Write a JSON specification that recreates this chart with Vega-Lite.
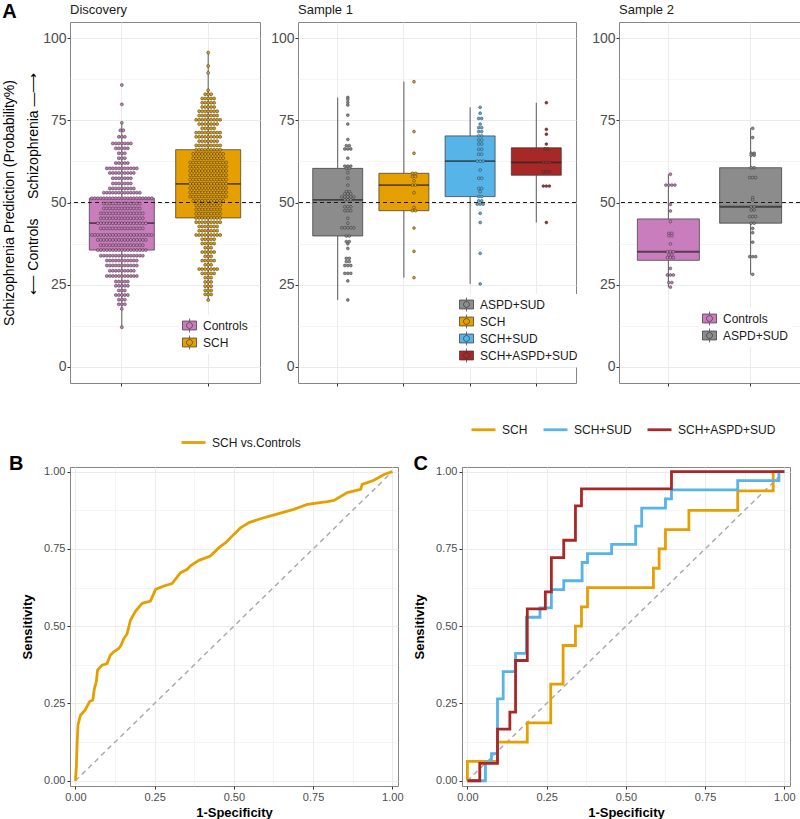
{
"$schema":"https://vega.github.io/schema/vega-lite/v6.json",
"padding":{"left":2,"top":1,"right":0,"bottom":0},
"config":{
"font":"Liberation Sans",
"view":{"stroke":"#858585","strokeWidth":1},
"axis":{"domain":false,"tickColor":"#333333","tickSize":3,"labelColor":"#4D4D4D","gridColor":"#EBEBEB","titleColor":"#000000","titleFontWeight":"normal"},
"legend":{"labelFontSize":12,"labelColor":"#1A1A1A","symbolOpacity":1},
"title":{"color":"#1A1A1A","fontWeight":"normal","fontSize":13}
},
"datasets":{
"d":[
{"g":"Controls","v":85.8},{"g":"Controls","v":79.9},{"g":"Controls","v":74.3},
{"g":"Controls","v":72},{"g":"Controls","v":72},
{"g":"Controls","v":70},{"g":"Controls","v":70},{"g":"Controls","v":70},
{"g":"Controls","v":68},{"g":"Controls","v":68},{"g":"Controls","v":68},{"g":"Controls","v":68},{"g":"Controls","v":68},{"g":"Controls","v":68},{"g":"Controls","v":68},
{"g":"Controls","v":66.5},{"g":"Controls","v":66.5},{"g":"Controls","v":66.5},{"g":"Controls","v":66.5},{"g":"Controls","v":66.5},
{"g":"Controls","v":65},{"g":"Controls","v":65},{"g":"Controls","v":65},
{"g":"Controls","v":63.5},{"g":"Controls","v":63.5},{"g":"Controls","v":63.5},
{"g":"Controls","v":62},{"g":"Controls","v":62},{"g":"Controls","v":62},{"g":"Controls","v":62},{"g":"Controls","v":62},
{"g":"Controls","v":60.4},{"g":"Controls","v":60.4},{"g":"Controls","v":60.4},{"g":"Controls","v":60.4},{"g":"Controls","v":60.4},{"g":"Controls","v":60.4},{"g":"Controls","v":60.4},{"g":"Controls","v":60.4},{"g":"Controls","v":60.4},{"g":"Controls","v":60.4},{"g":"Controls","v":60.4},
{"g":"Controls","v":59},{"g":"Controls","v":59},{"g":"Controls","v":59},{"g":"Controls","v":59},{"g":"Controls","v":59},{"g":"Controls","v":59},{"g":"Controls","v":59},{"g":"Controls","v":59},{"g":"Controls","v":59},
{"g":"Controls","v":57.4},{"g":"Controls","v":57.4},{"g":"Controls","v":57.4},{"g":"Controls","v":57.4},{"g":"Controls","v":57.4},{"g":"Controls","v":57.4},{"g":"Controls","v":57.4},
{"g":"Controls","v":55.8},{"g":"Controls","v":55.8},{"g":"Controls","v":55.8},{"g":"Controls","v":55.8},{"g":"Controls","v":55.8},{"g":"Controls","v":55.8},{"g":"Controls","v":55.8},
{"g":"Controls","v":54.3},{"g":"Controls","v":54.3},{"g":"Controls","v":54.3},{"g":"Controls","v":54.3},{"g":"Controls","v":54.3},{"g":"Controls","v":54.3},{"g":"Controls","v":54.3},{"g":"Controls","v":54.3},{"g":"Controls","v":54.3},
{"g":"Controls","v":53},{"g":"Controls","v":53},{"g":"Controls","v":53},{"g":"Controls","v":53},{"g":"Controls","v":53},{"g":"Controls","v":53},{"g":"Controls","v":53},{"g":"Controls","v":53},{"g":"Controls","v":53},{"g":"Controls","v":53},{"g":"Controls","v":53},{"g":"Controls","v":53},{"g":"Controls","v":53},
{"g":"Controls","v":51.3},{"g":"Controls","v":51.3},{"g":"Controls","v":51.3},{"g":"Controls","v":51.3},{"g":"Controls","v":51.3},{"g":"Controls","v":51.3},{"g":"Controls","v":51.3},{"g":"Controls","v":51.3},{"g":"Controls","v":51.3},{"g":"Controls","v":51.3},{"g":"Controls","v":51.3},{"g":"Controls","v":51.3},{"g":"Controls","v":51.3},{"g":"Controls","v":51.3},{"g":"Controls","v":51.3},{"g":"Controls","v":51.3},{"g":"Controls","v":51.3},{"g":"Controls","v":51.3},{"g":"Controls","v":51.3},{"g":"Controls","v":51.3},{"g":"Controls","v":51.3},
{"g":"Controls","v":49.7},{"g":"Controls","v":49.7},{"g":"Controls","v":49.7},{"g":"Controls","v":49.7},{"g":"Controls","v":49.7},{"g":"Controls","v":49.7},{"g":"Controls","v":49.7},{"g":"Controls","v":49.7},{"g":"Controls","v":49.7},{"g":"Controls","v":49.7},{"g":"Controls","v":49.7},{"g":"Controls","v":49.7},{"g":"Controls","v":49.7},
{"g":"Controls","v":48.2},{"g":"Controls","v":48.2},{"g":"Controls","v":48.2},{"g":"Controls","v":48.2},{"g":"Controls","v":48.2},{"g":"Controls","v":48.2},{"g":"Controls","v":48.2},{"g":"Controls","v":48.2},{"g":"Controls","v":48.2},{"g":"Controls","v":48.2},{"g":"Controls","v":48.2},{"g":"Controls","v":48.2},{"g":"Controls","v":48.2},
{"g":"Controls","v":46.7},{"g":"Controls","v":46.7},{"g":"Controls","v":46.7},{"g":"Controls","v":46.7},{"g":"Controls","v":46.7},{"g":"Controls","v":46.7},{"g":"Controls","v":46.7},{"g":"Controls","v":46.7},{"g":"Controls","v":46.7},{"g":"Controls","v":46.7},{"g":"Controls","v":46.7},{"g":"Controls","v":46.7},{"g":"Controls","v":46.7},{"g":"Controls","v":46.7},{"g":"Controls","v":46.7},
{"g":"Controls","v":45.2},{"g":"Controls","v":45.2},{"g":"Controls","v":45.2},{"g":"Controls","v":45.2},{"g":"Controls","v":45.2},{"g":"Controls","v":45.2},{"g":"Controls","v":45.2},{"g":"Controls","v":45.2},{"g":"Controls","v":45.2},{"g":"Controls","v":45.2},{"g":"Controls","v":45.2},{"g":"Controls","v":45.2},{"g":"Controls","v":45.2},{"g":"Controls","v":45.2},{"g":"Controls","v":45.2},
{"g":"Controls","v":43.7},{"g":"Controls","v":43.7},{"g":"Controls","v":43.7},{"g":"Controls","v":43.7},{"g":"Controls","v":43.7},{"g":"Controls","v":43.7},{"g":"Controls","v":43.7},{"g":"Controls","v":43.7},{"g":"Controls","v":43.7},{"g":"Controls","v":43.7},{"g":"Controls","v":43.7},{"g":"Controls","v":43.7},{"g":"Controls","v":43.7},{"g":"Controls","v":43.7},{"g":"Controls","v":43.7},{"g":"Controls","v":43.7},{"g":"Controls","v":43.7},
{"g":"Controls","v":42.1},{"g":"Controls","v":42.1},{"g":"Controls","v":42.1},{"g":"Controls","v":42.1},{"g":"Controls","v":42.1},{"g":"Controls","v":42.1},{"g":"Controls","v":42.1},{"g":"Controls","v":42.1},{"g":"Controls","v":42.1},{"g":"Controls","v":42.1},{"g":"Controls","v":42.1},{"g":"Controls","v":42.1},{"g":"Controls","v":42.1},{"g":"Controls","v":42.1},{"g":"Controls","v":42.1},
{"g":"Controls","v":40.1},{"g":"Controls","v":40.1},{"g":"Controls","v":40.1},{"g":"Controls","v":40.1},{"g":"Controls","v":40.1},{"g":"Controls","v":40.1},{"g":"Controls","v":40.1},{"g":"Controls","v":40.1},{"g":"Controls","v":40.1},{"g":"Controls","v":40.1},{"g":"Controls","v":40.1},{"g":"Controls","v":40.1},{"g":"Controls","v":40.1},{"g":"Controls","v":40.1},{"g":"Controls","v":40.1},{"g":"Controls","v":40.1},{"g":"Controls","v":40.1},{"g":"Controls","v":40.1},{"g":"Controls","v":40.1},{"g":"Controls","v":40.1},{"g":"Controls","v":40.1},
{"g":"Controls","v":38.6},{"g":"Controls","v":38.6},{"g":"Controls","v":38.6},{"g":"Controls","v":38.6},{"g":"Controls","v":38.6},{"g":"Controls","v":38.6},{"g":"Controls","v":38.6},{"g":"Controls","v":38.6},{"g":"Controls","v":38.6},{"g":"Controls","v":38.6},{"g":"Controls","v":38.6},{"g":"Controls","v":38.6},{"g":"Controls","v":38.6},{"g":"Controls","v":38.6},{"g":"Controls","v":38.6},{"g":"Controls","v":38.6},{"g":"Controls","v":38.6},
{"g":"Controls","v":37},{"g":"Controls","v":37},{"g":"Controls","v":37},{"g":"Controls","v":37},{"g":"Controls","v":37},{"g":"Controls","v":37},{"g":"Controls","v":37},{"g":"Controls","v":37},{"g":"Controls","v":37},{"g":"Controls","v":37},{"g":"Controls","v":37},{"g":"Controls","v":37},{"g":"Controls","v":37},{"g":"Controls","v":37},{"g":"Controls","v":37},
{"g":"Controls","v":35.5},{"g":"Controls","v":35.5},{"g":"Controls","v":35.5},{"g":"Controls","v":35.5},{"g":"Controls","v":35.5},{"g":"Controls","v":35.5},{"g":"Controls","v":35.5},{"g":"Controls","v":35.5},{"g":"Controls","v":35.5},{"g":"Controls","v":35.5},{"g":"Controls","v":35.5},{"g":"Controls","v":35.5},{"g":"Controls","v":35.5},{"g":"Controls","v":35.5},{"g":"Controls","v":35.5},{"g":"Controls","v":35.5},{"g":"Controls","v":35.5},
{"g":"Controls","v":33.8},{"g":"Controls","v":33.8},{"g":"Controls","v":33.8},{"g":"Controls","v":33.8},{"g":"Controls","v":33.8},{"g":"Controls","v":33.8},{"g":"Controls","v":33.8},{"g":"Controls","v":33.8},{"g":"Controls","v":33.8},{"g":"Controls","v":33.8},{"g":"Controls","v":33.8},{"g":"Controls","v":33.8},{"g":"Controls","v":33.8},{"g":"Controls","v":33.8},{"g":"Controls","v":33.8},
{"g":"Controls","v":32.3},{"g":"Controls","v":32.3},{"g":"Controls","v":32.3},{"g":"Controls","v":32.3},{"g":"Controls","v":32.3},{"g":"Controls","v":32.3},{"g":"Controls","v":32.3},{"g":"Controls","v":32.3},{"g":"Controls","v":32.3},{"g":"Controls","v":32.3},{"g":"Controls","v":32.3},
{"g":"Controls","v":30.8},{"g":"Controls","v":30.8},{"g":"Controls","v":30.8},{"g":"Controls","v":30.8},{"g":"Controls","v":30.8},{"g":"Controls","v":30.8},{"g":"Controls","v":30.8},{"g":"Controls","v":30.8},{"g":"Controls","v":30.8},{"g":"Controls","v":30.8},{"g":"Controls","v":30.8},
{"g":"Controls","v":29.2},{"g":"Controls","v":29.2},{"g":"Controls","v":29.2},{"g":"Controls","v":29.2},{"g":"Controls","v":29.2},{"g":"Controls","v":29.2},{"g":"Controls","v":29.2},{"g":"Controls","v":29.2},{"g":"Controls","v":29.2},
{"g":"Controls","v":27.6},{"g":"Controls","v":27.6},{"g":"Controls","v":27.6},{"g":"Controls","v":27.6},{"g":"Controls","v":27.6},{"g":"Controls","v":27.6},{"g":"Controls","v":27.6},{"g":"Controls","v":27.6},{"g":"Controls","v":27.6},{"g":"Controls","v":27.6},{"g":"Controls","v":27.6},
{"g":"Controls","v":25.9},{"g":"Controls","v":25.9},{"g":"Controls","v":25.9},{"g":"Controls","v":25.9},{"g":"Controls","v":25.9},
{"g":"Controls","v":24.6},{"g":"Controls","v":24.6},{"g":"Controls","v":24.6},{"g":"Controls","v":24.6},{"g":"Controls","v":24.6},
{"g":"Controls","v":23.2},{"g":"Controls","v":23.2},{"g":"Controls","v":23.2},
{"g":"Controls","v":21.8},{"g":"Controls","v":21.8},{"g":"Controls","v":21.8},{"g":"Controls","v":21.8},{"g":"Controls","v":21.8},
{"g":"Controls","v":20.4},{"g":"Controls","v":20.4},{"g":"Controls","v":20.4},
{"g":"Controls","v":19},{"g":"Controls","v":19},{"g":"Controls","v":19},
{"g":"Controls","v":17.6},{"g":"Controls","v":12},
{"g":"SCH","v":95.7},{"g":"SCH","v":91.6},{"g":"SCH","v":89.5},{"g":"SCH","v":84.2},
{"g":"SCH","v":83},{"g":"SCH","v":83},{"g":"SCH","v":83},
{"g":"SCH","v":81.7},{"g":"SCH","v":81.7},{"g":"SCH","v":81.7},{"g":"SCH","v":81.7},{"g":"SCH","v":81.7},
{"g":"SCH","v":80.4},{"g":"SCH","v":80.4},{"g":"SCH","v":80.4},{"g":"SCH","v":80.4},{"g":"SCH","v":80.4},
{"g":"SCH","v":79.1},{"g":"SCH","v":79.1},{"g":"SCH","v":79.1},{"g":"SCH","v":79.1},{"g":"SCH","v":79.1},
{"g":"SCH","v":77.8},{"g":"SCH","v":77.8},{"g":"SCH","v":77.8},{"g":"SCH","v":77.8},{"g":"SCH","v":77.8},{"g":"SCH","v":77.8},{"g":"SCH","v":77.8},
{"g":"SCH","v":76.5},{"g":"SCH","v":76.5},{"g":"SCH","v":76.5},{"g":"SCH","v":76.5},{"g":"SCH","v":76.5},{"g":"SCH","v":76.5},{"g":"SCH","v":76.5},
{"g":"SCH","v":75.2},{"g":"SCH","v":75.2},{"g":"SCH","v":75.2},{"g":"SCH","v":75.2},{"g":"SCH","v":75.2},{"g":"SCH","v":75.2},{"g":"SCH","v":75.2},{"g":"SCH","v":75.2},{"g":"SCH","v":75.2},
{"g":"SCH","v":73.9},{"g":"SCH","v":73.9},{"g":"SCH","v":73.9},{"g":"SCH","v":73.9},{"g":"SCH","v":73.9},{"g":"SCH","v":73.9},{"g":"SCH","v":73.9},
{"g":"SCH","v":72.6},{"g":"SCH","v":72.6},{"g":"SCH","v":72.6},{"g":"SCH","v":72.6},{"g":"SCH","v":72.6},
{"g":"SCH","v":71.3},{"g":"SCH","v":71.3},{"g":"SCH","v":71.3},{"g":"SCH","v":71.3},{"g":"SCH","v":71.3},{"g":"SCH","v":71.3},{"g":"SCH","v":71.3},{"g":"SCH","v":71.3},{"g":"SCH","v":71.3},
{"g":"SCH","v":70},{"g":"SCH","v":70},{"g":"SCH","v":70},{"g":"SCH","v":70},{"g":"SCH","v":70},{"g":"SCH","v":70},{"g":"SCH","v":70},{"g":"SCH","v":70},{"g":"SCH","v":70},
{"g":"SCH","v":68.7},{"g":"SCH","v":68.7},{"g":"SCH","v":68.7},{"g":"SCH","v":68.7},{"g":"SCH","v":68.7},{"g":"SCH","v":68.7},{"g":"SCH","v":68.7},
{"g":"SCH","v":67.4},{"g":"SCH","v":67.4},{"g":"SCH","v":67.4},{"g":"SCH","v":67.4},{"g":"SCH","v":67.4},{"g":"SCH","v":67.4},{"g":"SCH","v":67.4},{"g":"SCH","v":67.4},{"g":"SCH","v":67.4},
{"g":"SCH","v":66.1},{"g":"SCH","v":66.1},{"g":"SCH","v":66.1},{"g":"SCH","v":66.1},{"g":"SCH","v":66.1},{"g":"SCH","v":66.1},{"g":"SCH","v":66.1},{"g":"SCH","v":66.1},{"g":"SCH","v":66.1},
{"g":"SCH","v":64.8},{"g":"SCH","v":64.8},{"g":"SCH","v":64.8},{"g":"SCH","v":64.8},{"g":"SCH","v":64.8},{"g":"SCH","v":64.8},{"g":"SCH","v":64.8},{"g":"SCH","v":64.8},{"g":"SCH","v":64.8},{"g":"SCH","v":64.8},{"g":"SCH","v":64.8},
{"g":"SCH","v":63.5},{"g":"SCH","v":63.5},{"g":"SCH","v":63.5},{"g":"SCH","v":63.5},{"g":"SCH","v":63.5},{"g":"SCH","v":63.5},{"g":"SCH","v":63.5},{"g":"SCH","v":63.5},{"g":"SCH","v":63.5},{"g":"SCH","v":63.5},{"g":"SCH","v":63.5},
{"g":"SCH","v":62.2},{"g":"SCH","v":62.2},{"g":"SCH","v":62.2},{"g":"SCH","v":62.2},{"g":"SCH","v":62.2},{"g":"SCH","v":62.2},{"g":"SCH","v":62.2},{"g":"SCH","v":62.2},{"g":"SCH","v":62.2},{"g":"SCH","v":62.2},{"g":"SCH","v":62.2},{"g":"SCH","v":62.2},{"g":"SCH","v":62.2},
{"g":"SCH","v":60.9},{"g":"SCH","v":60.9},{"g":"SCH","v":60.9},{"g":"SCH","v":60.9},{"g":"SCH","v":60.9},{"g":"SCH","v":60.9},{"g":"SCH","v":60.9},{"g":"SCH","v":60.9},{"g":"SCH","v":60.9},{"g":"SCH","v":60.9},{"g":"SCH","v":60.9},{"g":"SCH","v":60.9},{"g":"SCH","v":60.9},
{"g":"SCH","v":59.6},{"g":"SCH","v":59.6},{"g":"SCH","v":59.6},{"g":"SCH","v":59.6},{"g":"SCH","v":59.6},{"g":"SCH","v":59.6},{"g":"SCH","v":59.6},{"g":"SCH","v":59.6},{"g":"SCH","v":59.6},{"g":"SCH","v":59.6},{"g":"SCH","v":59.6},{"g":"SCH","v":59.6},{"g":"SCH","v":59.6},
{"g":"SCH","v":58.3},{"g":"SCH","v":58.3},{"g":"SCH","v":58.3},{"g":"SCH","v":58.3},{"g":"SCH","v":58.3},{"g":"SCH","v":58.3},{"g":"SCH","v":58.3},{"g":"SCH","v":58.3},{"g":"SCH","v":58.3},{"g":"SCH","v":58.3},{"g":"SCH","v":58.3},{"g":"SCH","v":58.3},{"g":"SCH","v":58.3},
{"g":"SCH","v":57},{"g":"SCH","v":57},{"g":"SCH","v":57},{"g":"SCH","v":57},{"g":"SCH","v":57},{"g":"SCH","v":57},{"g":"SCH","v":57},{"g":"SCH","v":57},{"g":"SCH","v":57},{"g":"SCH","v":57},{"g":"SCH","v":57},{"g":"SCH","v":57},{"g":"SCH","v":57},
{"g":"SCH","v":55.7},{"g":"SCH","v":55.7},{"g":"SCH","v":55.7},{"g":"SCH","v":55.7},{"g":"SCH","v":55.7},{"g":"SCH","v":55.7},{"g":"SCH","v":55.7},{"g":"SCH","v":55.7},{"g":"SCH","v":55.7},{"g":"SCH","v":55.7},{"g":"SCH","v":55.7},{"g":"SCH","v":55.7},{"g":"SCH","v":55.7},
{"g":"SCH","v":54.4},{"g":"SCH","v":54.4},{"g":"SCH","v":54.4},{"g":"SCH","v":54.4},{"g":"SCH","v":54.4},{"g":"SCH","v":54.4},{"g":"SCH","v":54.4},{"g":"SCH","v":54.4},{"g":"SCH","v":54.4},{"g":"SCH","v":54.4},{"g":"SCH","v":54.4},{"g":"SCH","v":54.4},{"g":"SCH","v":54.4},
{"g":"SCH","v":53.1},{"g":"SCH","v":53.1},{"g":"SCH","v":53.1},{"g":"SCH","v":53.1},{"g":"SCH","v":53.1},{"g":"SCH","v":53.1},{"g":"SCH","v":53.1},{"g":"SCH","v":53.1},{"g":"SCH","v":53.1},{"g":"SCH","v":53.1},{"g":"SCH","v":53.1},{"g":"SCH","v":53.1},{"g":"SCH","v":53.1},
{"g":"SCH","v":51.8},{"g":"SCH","v":51.8},{"g":"SCH","v":51.8},{"g":"SCH","v":51.8},{"g":"SCH","v":51.8},{"g":"SCH","v":51.8},{"g":"SCH","v":51.8},{"g":"SCH","v":51.8},{"g":"SCH","v":51.8},{"g":"SCH","v":51.8},{"g":"SCH","v":51.8},{"g":"SCH","v":51.8},{"g":"SCH","v":51.8},
{"g":"SCH","v":50.5},{"g":"SCH","v":50.5},{"g":"SCH","v":50.5},{"g":"SCH","v":50.5},{"g":"SCH","v":50.5},{"g":"SCH","v":50.5},{"g":"SCH","v":50.5},{"g":"SCH","v":50.5},{"g":"SCH","v":50.5},{"g":"SCH","v":50.5},{"g":"SCH","v":50.5},
{"g":"SCH","v":49.2},{"g":"SCH","v":49.2},{"g":"SCH","v":49.2},{"g":"SCH","v":49.2},{"g":"SCH","v":49.2},{"g":"SCH","v":49.2},{"g":"SCH","v":49.2},{"g":"SCH","v":49.2},{"g":"SCH","v":49.2},
{"g":"SCH","v":47.9},{"g":"SCH","v":47.9},{"g":"SCH","v":47.9},{"g":"SCH","v":47.9},{"g":"SCH","v":47.9},{"g":"SCH","v":47.9},{"g":"SCH","v":47.9},{"g":"SCH","v":47.9},{"g":"SCH","v":47.9},
{"g":"SCH","v":46.6},{"g":"SCH","v":46.6},{"g":"SCH","v":46.6},{"g":"SCH","v":46.6},{"g":"SCH","v":46.6},{"g":"SCH","v":46.6},{"g":"SCH","v":46.6},{"g":"SCH","v":46.6},{"g":"SCH","v":46.6},
{"g":"SCH","v":45.3},{"g":"SCH","v":45.3},{"g":"SCH","v":45.3},{"g":"SCH","v":45.3},{"g":"SCH","v":45.3},{"g":"SCH","v":45.3},{"g":"SCH","v":45.3},{"g":"SCH","v":45.3},{"g":"SCH","v":45.3},
{"g":"SCH","v":44},{"g":"SCH","v":44},{"g":"SCH","v":44},{"g":"SCH","v":44},{"g":"SCH","v":44},{"g":"SCH","v":44},{"g":"SCH","v":44},{"g":"SCH","v":44},{"g":"SCH","v":44},
{"g":"SCH","v":42.7},{"g":"SCH","v":42.7},{"g":"SCH","v":42.7},{"g":"SCH","v":42.7},{"g":"SCH","v":42.7},{"g":"SCH","v":42.7},{"g":"SCH","v":42.7},
{"g":"SCH","v":41.4},{"g":"SCH","v":41.4},{"g":"SCH","v":41.4},{"g":"SCH","v":41.4},{"g":"SCH","v":41.4},{"g":"SCH","v":41.4},{"g":"SCH","v":41.4},
{"g":"SCH","v":40.1},{"g":"SCH","v":40.1},{"g":"SCH","v":40.1},{"g":"SCH","v":40.1},{"g":"SCH","v":40.1},{"g":"SCH","v":40.1},{"g":"SCH","v":40.1},{"g":"SCH","v":40.1},{"g":"SCH","v":40.1},
{"g":"SCH","v":38.8},{"g":"SCH","v":38.8},{"g":"SCH","v":38.8},{"g":"SCH","v":38.8},{"g":"SCH","v":38.8},
{"g":"SCH","v":37.5},{"g":"SCH","v":37.5},{"g":"SCH","v":37.5},{"g":"SCH","v":37.5},{"g":"SCH","v":37.5},
{"g":"SCH","v":36.2},{"g":"SCH","v":36.2},{"g":"SCH","v":36.2},
{"g":"SCH","v":34.9},{"g":"SCH","v":34.9},{"g":"SCH","v":34.9},{"g":"SCH","v":34.9},{"g":"SCH","v":34.9},
{"g":"SCH","v":33.6},{"g":"SCH","v":33.6},{"g":"SCH","v":33.6},
{"g":"SCH","v":32.3},{"g":"SCH","v":32.3},{"g":"SCH","v":32.3},{"g":"SCH","v":32.3},{"g":"SCH","v":32.3},
{"g":"SCH","v":31},{"g":"SCH","v":31},{"g":"SCH","v":31},
{"g":"SCH","v":29.7},{"g":"SCH","v":29.7},{"g":"SCH","v":29.7},{"g":"SCH","v":29.7},{"g":"SCH","v":29.7},{"g":"SCH","v":29.7},{"g":"SCH","v":29.7},
{"g":"SCH","v":28.4},{"g":"SCH","v":28.4},{"g":"SCH","v":28.4},{"g":"SCH","v":28.4},{"g":"SCH","v":28.4},
{"g":"SCH","v":27.1},{"g":"SCH","v":27.1},{"g":"SCH","v":27.1},
{"g":"SCH","v":25.8},{"g":"SCH","v":25.8},{"g":"SCH","v":25.8},
{"g":"SCH","v":24.5},{"g":"SCH","v":24.5},{"g":"SCH","v":24.5},
{"g":"SCH","v":23.2},{"g":"SCH","v":23.2},{"g":"SCH","v":23.2},
{"g":"SCH","v":22},{"g":"SCH","v":22},{"g":"SCH","v":22},
{"g":"SCH","v":20.3}
],
"s1":[
{"g":"ASPD+SUD","v":82},{"g":"ASPD+SUD","v":81.4},{"g":"ASPD+SUD","v":80.5},{"g":"ASPD+SUD","v":79.7},{"g":"ASPD+SUD","v":76.6},{"g":"ASPD+SUD","v":73.9},{"g":"ASPD+SUD","v":69.2},
{"g":"ASPD+SUD","v":67.3},{"g":"ASPD+SUD","v":67.3},{"g":"ASPD+SUD","v":66.3},{"g":"ASPD+SUD","v":66.3},{"g":"ASPD+SUD","v":66.3},{"g":"ASPD+SUD","v":63.5},
{"g":"ASPD+SUD","v":61.1},{"g":"ASPD+SUD","v":61.1},{"g":"ASPD+SUD","v":61.1},{"g":"ASPD+SUD","v":60.4},{"g":"ASPD+SUD","v":60.4},{"g":"ASPD+SUD","v":59.1},{"g":"ASPD+SUD","v":57.4},{"g":"ASPD+SUD","v":55.3},
{"g":"ASPD+SUD","v":53.3},{"g":"ASPD+SUD","v":53.3},{"g":"ASPD+SUD","v":52.6},{"g":"ASPD+SUD","v":52.6},{"g":"ASPD+SUD","v":52.6},
{"g":"ASPD+SUD","v":51.7},{"g":"ASPD+SUD","v":51.7},{"g":"ASPD+SUD","v":51.7},{"g":"ASPD+SUD","v":51.7},{"g":"ASPD+SUD","v":51.7},
{"g":"ASPD+SUD","v":50.8},{"g":"ASPD+SUD","v":50.8},{"g":"ASPD+SUD","v":50.8},{"g":"ASPD+SUD","v":48.7},{"g":"ASPD+SUD","v":48.7},{"g":"ASPD+SUD","v":48.7},{"g":"ASPD+SUD","v":47.5},{"g":"ASPD+SUD","v":47.5},{"g":"ASPD+SUD","v":47.5},
{"g":"ASPD+SUD","v":45.2},{"g":"ASPD+SUD","v":43.7},{"g":"ASPD+SUD","v":42.3},{"g":"ASPD+SUD","v":42.3},{"g":"ASPD+SUD","v":42.3},{"g":"ASPD+SUD","v":42.3},{"g":"ASPD+SUD","v":42.3},
{"g":"ASPD+SUD","v":39.8},{"g":"ASPD+SUD","v":39.8},{"g":"ASPD+SUD","v":38.1},{"g":"ASPD+SUD","v":38.1},{"g":"ASPD+SUD","v":37.4},{"g":"ASPD+SUD","v":36},
{"g":"ASPD+SUD","v":33},{"g":"ASPD+SUD","v":33},{"g":"ASPD+SUD","v":32},{"g":"ASPD+SUD","v":32},{"g":"ASPD+SUD","v":30.8},{"g":"ASPD+SUD","v":30.8},{"g":"ASPD+SUD","v":30.8},
{"g":"ASPD+SUD","v":28.4},{"g":"ASPD+SUD","v":28.4},{"g":"ASPD+SUD","v":28.4},{"g":"ASPD+SUD","v":26.1},{"g":"ASPD+SUD","v":20.3},
{"g":"SCH","v":86.8},{"g":"SCH","v":71.6},{"g":"SCH","v":65},{"g":"SCH","v":58.9},{"g":"SCH","v":58.9},{"g":"SCH","v":57.9},{"g":"SCH","v":57.9},{"g":"SCH","v":56.6},{"g":"SCH","v":55.3},{"g":"SCH","v":55.3},{"g":"SCH","v":53},{"g":"SCH","v":48.5},{"g":"SCH","v":47.5},{"g":"SCH","v":47.5},{"g":"SCH","v":42.2},{"g":"SCH","v":35.1},{"g":"SCH","v":27.1},
{"g":"SCH+SUD","v":79},{"g":"SCH+SUD","v":77.2},{"g":"SCH+SUD","v":75.6},{"g":"SCH+SUD","v":75.6},{"g":"SCH+SUD","v":73.9},{"g":"SCH+SUD","v":72.8},{"g":"SCH+SUD","v":72.8},{"g":"SCH+SUD","v":71.6},{"g":"SCH+SUD","v":71.6},{"g":"SCH+SUD","v":70.3},{"g":"SCH+SUD","v":70.3},{"g":"SCH+SUD","v":69},{"g":"SCH+SUD","v":69},{"g":"SCH+SUD","v":67.8},{"g":"SCH+SUD","v":67.8},{"g":"SCH+SUD","v":66.2},{"g":"SCH+SUD","v":66.2},{"g":"SCH+SUD","v":64.7},{"g":"SCH+SUD","v":64.7},
{"g":"SCH+SUD","v":62.6},{"g":"SCH+SUD","v":62.6},{"g":"SCH+SUD","v":62.6},{"g":"SCH+SUD","v":59.9},{"g":"SCH+SUD","v":57.4},{"g":"SCH+SUD","v":57.4},{"g":"SCH+SUD","v":54.3},{"g":"SCH+SUD","v":54.3},{"g":"SCH+SUD","v":53.3},{"g":"SCH+SUD","v":51.8},{"g":"SCH+SUD","v":51.8},{"g":"SCH+SUD","v":50.5},{"g":"SCH+SUD","v":50.5},{"g":"SCH+SUD","v":49.5},{"g":"SCH+SUD","v":49.5},{"g":"SCH+SUD","v":49.5},
{"g":"SCH+SUD","v":46.7},{"g":"SCH+SUD","v":43.9},{"g":"SCH+SUD","v":34.5},{"g":"SCH+SUD","v":25.2},
{"g":"SCH+ASPD+SUD","v":80.4},{"g":"SCH+ASPD+SUD","v":72.3},{"g":"SCH+ASPD+SUD","v":70.8},{"g":"SCH+ASPD+SUD","v":67.8},{"g":"SCH+ASPD+SUD","v":66.3},{"g":"SCH+ASPD+SUD","v":66.3},{"g":"SCH+ASPD+SUD","v":62.2},{"g":"SCH+ASPD+SUD","v":62.2},{"g":"SCH+ASPD+SUD","v":62.2},{"g":"SCH+ASPD+SUD","v":59.4},{"g":"SCH+ASPD+SUD","v":59.4},{"g":"SCH+ASPD+SUD","v":59.4},{"g":"SCH+ASPD+SUD","v":55},{"g":"SCH+ASPD+SUD","v":55},{"g":"SCH+ASPD+SUD","v":55},{"g":"SCH+ASPD+SUD","v":43.9}
],
"s2":[
{"g":"Controls","v":58.6},{"g":"Controls","v":55.3},{"g":"Controls","v":55.3},{"g":"Controls","v":55.3},{"g":"Controls","v":55.3},{"g":"Controls","v":49.4},{"g":"Controls","v":47.4},{"g":"Controls","v":44.2},{"g":"Controls","v":40.6},{"g":"Controls","v":40.6},{"g":"Controls","v":39.9},{"g":"Controls","v":39.9},{"g":"Controls","v":37.4},{"g":"Controls","v":35},{"g":"Controls","v":35},{"g":"Controls","v":35},{"g":"Controls","v":34},{"g":"Controls","v":34},{"g":"Controls","v":33.2},{"g":"Controls","v":33.2},{"g":"Controls","v":33.2},{"g":"Controls","v":29.9},{"g":"Controls","v":27.9},{"g":"Controls","v":27.9},{"g":"Controls","v":27.9},{"g":"Controls","v":25.6},{"g":"Controls","v":25.6},{"g":"Controls","v":24.2},
{"g":"ASPD+SUD","v":72.6},{"g":"ASPD+SUD","v":69.8},{"g":"ASPD+SUD","v":65},{"g":"ASPD+SUD","v":65},{"g":"ASPD+SUD","v":64.4},{"g":"ASPD+SUD","v":64.4},{"g":"ASPD+SUD","v":60.6},{"g":"ASPD+SUD","v":60.6},{"g":"ASPD+SUD","v":57.6},{"g":"ASPD+SUD","v":57.6},{"g":"ASPD+SUD","v":57.6},{"g":"ASPD+SUD","v":51.5},{"g":"ASPD+SUD","v":50.8},{"g":"ASPD+SUD","v":48.7},{"g":"ASPD+SUD","v":48.7},{"g":"ASPD+SUD","v":47.7},{"g":"ASPD+SUD","v":47.7},{"g":"ASPD+SUD","v":45.7},{"g":"ASPD+SUD","v":45.7},{"g":"ASPD+SUD","v":45.7},{"g":"ASPD+SUD","v":43.7},{"g":"ASPD+SUD","v":43.7},{"g":"ASPD+SUD","v":42.1},{"g":"ASPD+SUD","v":40.8},{"g":"ASPD+SUD","v":37.9},{"g":"ASPD+SUD","v":33.5},{"g":"ASPD+SUD","v":33.5},{"g":"ASPD+SUD","v":33.5},{"g":"ASPD+SUD","v":28.1}
],
"rb":[
{"m":"SCH vs.Controls","x":0,"y":0},{"m":"SCH vs.Controls","x":0.003,"y":0.042},{"m":"SCH vs.Controls","x":0.005,"y":0.107},{"m":"SCH vs.Controls","x":0.008,"y":0.18},{"m":"SCH vs.Controls","x":0.016,"y":0.212},{"m":"SCH vs.Controls","x":0.031,"y":0.229},{"m":"SCH vs.Controls","x":0.045,"y":0.256},{"m":"SCH vs.Controls","x":0.055,"y":0.261},{"m":"SCH vs.Controls","x":0.06,"y":0.298},{"m":"SCH vs.Controls","x":0.066,"y":0.32},{"m":"SCH vs.Controls","x":0.07,"y":0.358},{"m":"SCH vs.Controls","x":0.084,"y":0.374},{"m":"SCH vs.Controls","x":0.1,"y":0.379},{"m":"SCH vs.Controls","x":0.11,"y":0.406},{"m":"SCH vs.Controls","x":0.121,"y":0.417},{"m":"SCH vs.Controls","x":0.137,"y":0.428},{"m":"SCH vs.Controls","x":0.144,"y":0.438},{"m":"SCH vs.Controls","x":0.153,"y":0.46},{"m":"SCH vs.Controls","x":0.163,"y":0.475},{"m":"SCH vs.Controls","x":0.174,"y":0.52},{"m":"SCH vs.Controls","x":0.19,"y":0.549},{"m":"SCH vs.Controls","x":0.211,"y":0.574},{"m":"SCH vs.Controls","x":0.237,"y":0.581},{"m":"SCH vs.Controls","x":0.253,"y":0.619},{"m":"SCH vs.Controls","x":0.279,"y":0.63},{"m":"SCH vs.Controls","x":0.305,"y":0.638},{"m":"SCH vs.Controls","x":0.332,"y":0.673},{"m":"SCH vs.Controls","x":0.353,"y":0.684},{"m":"SCH vs.Controls","x":0.363,"y":0.695},{"m":"SCH vs.Controls","x":0.39,"y":0.713},{"m":"SCH vs.Controls","x":0.426,"y":0.727},{"m":"SCH vs.Controls","x":0.453,"y":0.754},{"m":"SCH vs.Controls","x":0.474,"y":0.77},{"m":"SCH vs.Controls","x":0.5,"y":0.797},{"m":"SCH vs.Controls","x":0.521,"y":0.818},{"m":"SCH vs.Controls","x":0.548,"y":0.835},{"m":"SCH vs.Controls","x":0.579,"y":0.846},{"m":"SCH vs.Controls","x":0.627,"y":0.86},{"m":"SCH vs.Controls","x":0.689,"y":0.878},{"m":"SCH vs.Controls","x":0.732,"y":0.894},{"m":"SCH vs.Controls","x":0.795,"y":0.903},{"m":"SCH vs.Controls","x":0.816,"y":0.907},{"m":"SCH vs.Controls","x":0.858,"y":0.932},{"m":"SCH vs.Controls","x":0.9,"y":0.943},{"m":"SCH vs.Controls","x":0.905,"y":0.959},{"m":"SCH vs.Controls","x":0.942,"y":0.972},{"m":"SCH vs.Controls","x":0.974,"y":0.991},{"m":"SCH vs.Controls","x":1,"y":1}
],
"rc":[
{"m":"SCH","x":0,"y":0},{"m":"SCH","x":0,"y":0.0625},{"m":"SCH","x":0.095,"y":0.125},{"m":"SCH","x":0.189,"y":0.1875},{"m":"SCH","x":0.263,"y":0.3125},{"m":"SCH","x":0.302,"y":0.4375},{"m":"SCH","x":0.341,"y":0.5},{"m":"SCH","x":0.36,"y":0.5625},{"m":"SCH","x":0.379,"y":0.625},{"m":"SCH","x":0.587,"y":0.6875},{"m":"SCH","x":0.605,"y":0.75},{"m":"SCH","x":0.625,"y":0.8125},{"m":"SCH","x":0.699,"y":0.875},{"m":"SCH","x":0.853,"y":0.9375},{"m":"SCH","x":0.965,"y":1},{"m":"SCH","x":1,"y":1},
{"m":"SCH+SUD","x":0,"y":0},{"m":"SCH+SUD","x":0.057,"y":0.059},{"m":"SCH+SUD","x":0.076,"y":0.088},{"m":"SCH+SUD","x":0.095,"y":0.265},{"m":"SCH+SUD","x":0.113,"y":0.353},{"m":"SCH+SUD","x":0.152,"y":0.412},{"m":"SCH+SUD","x":0.186,"y":0.529},{"m":"SCH+SUD","x":0.229,"y":0.559},{"m":"SCH+SUD","x":0.265,"y":0.618},{"m":"SCH+SUD","x":0.304,"y":0.647},{"m":"SCH+SUD","x":0.362,"y":0.706},{"m":"SCH+SUD","x":0.379,"y":0.735},{"m":"SCH+SUD","x":0.455,"y":0.765},{"m":"SCH+SUD","x":0.531,"y":0.824},{"m":"SCH+SUD","x":0.55,"y":0.882},{"m":"SCH+SUD","x":0.625,"y":0.912},{"m":"SCH+SUD","x":0.644,"y":0.941},{"m":"SCH+SUD","x":0.853,"y":0.971},{"m":"SCH+SUD","x":0.983,"y":1},{"m":"SCH+SUD","x":1,"y":1},
{"m":"SCH+ASPD+SUD","x":0,"y":0},{"m":"SCH+ASPD+SUD","x":0.039,"y":0.056},{"m":"SCH+ASPD+SUD","x":0.095,"y":0.167},{"m":"SCH+ASPD+SUD","x":0.134,"y":0.222},{"m":"SCH+ASPD+SUD","x":0.152,"y":0.389},{"m":"SCH+ASPD+SUD","x":0.189,"y":0.556},{"m":"SCH+ASPD+SUD","x":0.246,"y":0.611},{"m":"SCH+ASPD+SUD","x":0.265,"y":0.722},{"m":"SCH+ASPD+SUD","x":0.304,"y":0.778},{"m":"SCH+ASPD+SUD","x":0.341,"y":0.889},{"m":"SCH+ASPD+SUD","x":0.36,"y":0.944},{"m":"SCH+ASPD+SUD","x":0.644,"y":1},{"m":"SCH+ASPD+SUD","x":1,"y":1}
],
"diag":[{"x":0,"y":0},{"x":1,"y":1}]
},
"spacing":28,
"resolve":{"scale":{"color":"independent"},"legend":{"color":"independent"}},
"vconcat":[
{
"title":{"text":"A","anchor":"start","frame":"bounds","fontSize":20,"fontWeight":"bold","color":"#000000","offset":0,"dy":18},
"spacing":9,
"resolve":{"scale":{"color":"independent","x":"independent","y":"independent"},"legend":{"color":"independent"}},
"hconcat":[
{
"width":190,"height":361,
"title":{"text":"Discovery","anchor":"start","frame":"group","offset":5},
"data":{"name":"d"},
"layer":[
{"mark":{"type":"boxplot","extent":1.5,"size":65,"outliers":false,"box":{"stroke":"#333333","strokeWidth":0.7},"median":{"color":"#222222","thickness":1.8},"rule":{"color":"#333333","strokeWidth":0.8}},
"encoding":{"x":{"field":"g","type":"nominal","scale":{"type":"band","domain":["Controls","SCH"],"paddingInner":0,"paddingOuter":0.1},"axis":{"labels":false,"title":null,"grid":true,"bandPosition":0.5}},
"y":{"field":"v","type":"quantitative","scale":{"domain":[-5,105],"nice":false,"zero":false},"axis":{"values":[0,12.5,25,37.5,50,62.5,75,87.5,100],"labelExpr":"datum.value % 25 === 0 ? datum.label : ''","labelOverlap":false,"labelFontSize":14,"labelPadding":1,"tickOpacity":{"condition":{"test":"datum.value % 25 === 0","value":1},"value":0},"gridWidth":{"condition":{"test":"datum.value % 25 === 0","value":1},"value":0.5},"title":["Schizophrenia Prediction (Probability%)","\u200b\u00a0\u00a0\u00a0\u00a0\u00a0\u00a0\u00a0\u00a0\u00a0\u00a0⟵ Controls\u00a0\u00a0\u00a0\u00a0\u00a0Schizophrenia —⟶"],"titleFontSize":14,"titleLineHeight":24,"titlePadding":2}},
"color":{"field":"g","type":"nominal","scale":{"domain":["Controls","SCH"],"range":["#C97DBD","#E69F00"]},"legend":{"orient":"none","legendX":109,"legendY":293,"title":null,"fillColor":"#FFFFFF","padding":3,"symbolType":"M-1,-0.64H1V0.64H-1Z M0.42,0A0.42,0.42 0 1,1 -0.42,0A0.42,0.42 0 1,1 0.42,0 M0,-1V-0.64 M0,0.64V1","symbolSize":196,"symbolStrokeColor":"#333333","symbolStrokeWidth":0.7,"rowPadding":0,"labelOffset":6}}}},
{"data":{"values":[{}]},"mark":{"type":"rule","strokeDash":[4,3],"color":"#1A1A1A","strokeWidth":1},"encoding":{"y":{"datum":50,"type":"quantitative","scale":{"domain":[-5,105],"nice":false,"zero":false}}}},
{"transform":[{"window":[{"op":"row_number","as":"r"}],"groupby":["g","v"]},{"joinaggregate":[{"op":"count","as":"n"}],"groupby":["g","v"]},{"calculate":"datum.r-(datum.n+1)/2","as":"o"}],
"mark":{"type":"point","shape":"circle","filled":true,"size":9,"stroke":"#333333","strokeWidth":0.5,"opacity":1},
"encoding":{"x":{"field":"g","type":"nominal","scale":{"type":"band","domain":["Controls","SCH"],"paddingInner":0,"paddingOuter":0.1},"axis":{"labels":false,"title":null,"grid":true,"bandPosition":0.5}},
"y":{"field":"v","type":"quantitative","scale":{"domain":[-5,105],"nice":false,"zero":false}},
"xOffset":{"field":"o","type":"quantitative","scale":{"domain":[-14.4,14.4]}},
"color":{"field":"g","type":"nominal","scale":{"domain":["Controls","SCH"],"range":["#C97DBD","#E69F00"]},"legend":null}}}
]
},
{
"width":278,"height":361,
"title":{"text":"Sample 1","anchor":"start","frame":"group","offset":5},
"data":{"name":"s1"},
"layer":[
{"mark":{"type":"boxplot","extent":"min-max","size":50,"outliers":false,"box":{"stroke":"#333333","strokeWidth":0.7},"median":{"color":"#222222","thickness":1.8},"rule":{"color":"#333333","strokeWidth":0.8}},
"encoding":{"x":{"field":"g","type":"nominal","scale":{"type":"band","domain":["ASPD+SUD","SCH","SCH+SUD","SCH+ASPD+SUD"],"paddingInner":0,"paddingOuter":0.1},"axis":{"labels":false,"title":null,"grid":true,"bandPosition":0.5}},
"y":{"field":"v","type":"quantitative","scale":{"domain":[-5,105],"nice":false,"zero":false},"axis":{"values":[0,12.5,25,37.5,50,62.5,75,87.5,100],"labelExpr":"datum.value % 25 === 0 ? datum.label : ''","labelOverlap":false,"labelFontSize":14,"labelPadding":1,"tickOpacity":{"condition":{"test":"datum.value % 25 === 0","value":1},"value":0},"gridWidth":{"condition":{"test":"datum.value % 25 === 0","value":1},"value":0.5},"title":null}},
"color":{"field":"g","type":"nominal","scale":{"domain":["ASPD+SUD","SCH","SCH+SUD","SCH+ASPD+SUD"],"range":["#8C8C8C","#E69F00","#56B4E9","#A82828"]},"legend":{"orient":"none","legendX":158,"legendY":272,"title":null,"fillColor":"#FFFFFF","padding":3,"symbolType":"M-1,-0.64H1V0.64H-1Z M0.42,0A0.42,0.42 0 1,1 -0.42,0A0.42,0.42 0 1,1 0.42,0 M0,-1V-0.64 M0,0.64V1","symbolSize":196,"symbolStrokeColor":"#333333","symbolStrokeWidth":0.7,"rowPadding":0,"labelOffset":6}}}},
{"data":{"values":[{}]},"mark":{"type":"rule","strokeDash":[4,3],"color":"#1A1A1A","strokeWidth":1},"encoding":{"y":{"datum":50,"type":"quantitative","scale":{"domain":[-5,105],"nice":false,"zero":false}}}},
{"transform":[{"window":[{"op":"row_number","as":"r"}],"groupby":["g","v"]},{"joinaggregate":[{"op":"count","as":"n"}],"groupby":["g","v"]},{"calculate":"datum.r-(datum.n+1)/2","as":"o"}],
"mark":{"type":"point","shape":"circle","filled":true,"size":8,"stroke":"#333333","strokeWidth":0.5,"opacity":1},
"encoding":{"x":{"field":"g","type":"nominal","scale":{"type":"band","domain":["ASPD+SUD","SCH","SCH+SUD","SCH+ASPD+SUD"],"paddingInner":0,"paddingOuter":0.1},"axis":{"labels":false,"title":null,"grid":true,"bandPosition":0.5}},
"y":{"field":"v","type":"quantitative","scale":{"domain":[-5,105],"nice":false,"zero":false}},
"xOffset":{"field":"o","type":"quantitative","scale":{"domain":[-11,11]}},
"color":{"field":"g","type":"nominal","scale":{"domain":["ASPD+SUD","SCH","SCH+SUD","SCH+ASPD+SUD"],"range":["#8C8C8C","#E69F00","#56B4E9","#A82828"]},"legend":null}}}
]
},
{
"width":181,"height":361,
"title":{"text":"Sample 2","anchor":"start","frame":"group","offset":5},
"data":{"name":"s2"},
"layer":[
{"mark":{"type":"boxplot","extent":"min-max","size":62,"outliers":false,"box":{"stroke":"#333333","strokeWidth":0.7},"median":{"color":"#222222","thickness":1.8},"rule":{"color":"#333333","strokeWidth":0.8}},
"encoding":{"x":{"field":"g","type":"nominal","scale":{"type":"band","domain":["Controls","ASPD+SUD"],"paddingInner":0,"paddingOuter":0.1},"axis":{"labels":false,"title":null,"grid":true,"bandPosition":0.5}},
"y":{"field":"v","type":"quantitative","scale":{"domain":[-5,105],"nice":false,"zero":false},"axis":{"values":[0,12.5,25,37.5,50,62.5,75,87.5,100],"labelExpr":"datum.value % 25 === 0 ? datum.label : ''","labelOverlap":false,"labelFontSize":14,"labelPadding":1,"tickOpacity":{"condition":{"test":"datum.value % 25 === 0","value":1},"value":0},"gridWidth":{"condition":{"test":"datum.value % 25 === 0","value":1},"value":0.5},"title":null}},
"color":{"field":"g","type":"nominal","scale":{"domain":["Controls","ASPD+SUD"],"range":["#C97DBD","#8C8C8C"]},"legend":{"orient":"none","legendX":80,"legendY":286,"title":null,"fillColor":"#FFFFFF","padding":3,"symbolType":"M-1,-0.64H1V0.64H-1Z M0.42,0A0.42,0.42 0 1,1 -0.42,0A0.42,0.42 0 1,1 0.42,0 M0,-1V-0.64 M0,0.64V1","symbolSize":196,"symbolStrokeColor":"#333333","symbolStrokeWidth":0.7,"rowPadding":0,"labelOffset":6}}}},
{"data":{"values":[{}]},"mark":{"type":"rule","strokeDash":[4,3],"color":"#1A1A1A","strokeWidth":1},"encoding":{"y":{"datum":50,"type":"quantitative","scale":{"domain":[-5,105],"nice":false,"zero":false}}}},
{"transform":[{"window":[{"op":"row_number","as":"r"}],"groupby":["g","v"]},{"joinaggregate":[{"op":"count","as":"n"}],"groupby":["g","v"]},{"calculate":"datum.r-(datum.n+1)/2","as":"o"}],
"mark":{"type":"point","shape":"circle","filled":true,"size":8,"stroke":"#333333","strokeWidth":0.5,"opacity":1},
"encoding":{"x":{"field":"g","type":"nominal","scale":{"type":"band","domain":["Controls","ASPD+SUD"],"paddingInner":0,"paddingOuter":0.1},"axis":{"labels":false,"title":null,"grid":true,"bandPosition":0.5}},
"y":{"field":"v","type":"quantitative","scale":{"domain":[-5,105],"nice":false,"zero":false}},
"xOffset":{"field":"o","type":"quantitative","scale":{"domain":[-10,10]}},
"color":{"field":"g","type":"nominal","scale":{"domain":["Controls","ASPD+SUD"],"range":["#C97DBD","#8C8C8C"]},"legend":null}}}
]
}
]
},
{
"title":{"text":"B","anchor":"start","frame":"bounds","fontSize":20,"fontWeight":"bold","color":"#000000","offset":0,"dy":58,"dx":-12},
"spacing":9,
"resolve":{"scale":{"color":"independent","x":"independent","y":"independent"},"legend":{"color":"independent"}},
"hconcat":[
{
"width":328,"height":319,
"encoding":{
"x":{"field":"x","type":"quantitative","scale":{"domain":[-0.017,1.018],"nice":false,"zero":false},"axis":{"values":[0,0.125,0.25,0.375,0.5,0.625,0.75,0.875,1],"format":".2f","labelExpr":"(datum.value*4)%1===0 ? datum.label : ''","labelOverlap":false,"labelFontSize":11,"tickOpacity":{"condition":{"test":"(datum.value*4)%1===0","value":1},"value":0},"gridWidth":{"condition":{"test":"(datum.value*4)%1===0","value":1},"value":0.5},"title":"1-Specificity","titleFontSize":13,"titleFontWeight":"bold","titlePadding":4}},
"y":{"field":"y","type":"quantitative","scale":{"domain":[-0.017,1.015],"nice":false,"zero":false},"axis":{"values":[0,0.125,0.25,0.375,0.5,0.625,0.75,0.875,1],"format":".2f","labelExpr":"(datum.value*4)%1===0 ? datum.label : ''","labelOverlap":false,"labelFontSize":11,"tickOpacity":{"condition":{"test":"(datum.value*4)%1===0","value":1},"value":0},"gridWidth":{"condition":{"test":"(datum.value*4)%1===0","value":1},"value":0.5},"title":"Sensitivity","titleFontSize":13,"titleFontWeight":"bold","titlePadding":9}}
},
"layer":[
{"data":{"name":"diag"},"mark":{"type":"line","strokeDash":[5,4],"color":"#A6A6A6","strokeWidth":1.4},"encoding":{}},
{"data":{"name":"rb"},"mark":{"type":"line","strokeWidth":2.8},"encoding":{"color":{"field":"m","type":"nominal","scale":{"domain":["SCH vs.Controls"],"range":["#E69F00"]},"legend":{"orient":"none","legendX":110,"legendY":-38,"direction":"horizontal","title":null,"symbolType":"stroke","symbolSize":576,"symbolStrokeWidth":2.8,"labelOffset":5}}}}
]
},
{
"width":328,"height":319,
"title":{"text":"C","anchor":"start","frame":"bounds","fontSize":20,"fontWeight":"bold","color":"#000000","offset":0,"dy":58},
"data":{"name":"rc"},
"encoding":{
"x":{"field":"x","type":"quantitative","scale":{"domain":[-0.017,1.018],"nice":false,"zero":false},"axis":{"values":[0,0.125,0.25,0.375,0.5,0.625,0.75,0.875,1],"format":".2f","labelExpr":"(datum.value*4)%1===0 ? datum.label : ''","labelOverlap":false,"labelFontSize":11,"tickOpacity":{"condition":{"test":"(datum.value*4)%1===0","value":1},"value":0},"gridWidth":{"condition":{"test":"(datum.value*4)%1===0","value":1},"value":0.5},"title":"1-Specificity","titleFontSize":13,"titleFontWeight":"bold","titlePadding":4}},
"y":{"field":"y","type":"quantitative","scale":{"domain":[-0.017,1.015],"nice":false,"zero":false},"axis":{"values":[0,0.125,0.25,0.375,0.5,0.625,0.75,0.875,1],"format":".2f","labelExpr":"(datum.value*4)%1===0 ? datum.label : ''","labelOverlap":false,"labelFontSize":11,"tickOpacity":{"condition":{"test":"(datum.value*4)%1===0","value":1},"value":0},"gridWidth":{"condition":{"test":"(datum.value*4)%1===0","value":1},"value":0.5},"title":"Sensitivity","titleFontSize":13,"titleFontWeight":"bold","titlePadding":9}}
},
"layer":[
{"data":{"name":"diag"},"mark":{"type":"line","strokeDash":[5,4],"color":"#A6A6A6","strokeWidth":1.4},"encoding":{}},
{"transform":[{"filter":"datum.m === 'SCH'"}],"mark":{"type":"line","strokeWidth":2.8,"interpolate":"step-after"},"encoding":{"color":{"field":"m","type":"nominal","scale":{"domain":["SCH","SCH+SUD","SCH+ASPD+SUD"],"range":["#E69F00","#56B4E9","#A82828"]},"legend":{"orient":"none","legendX":8,"legendY":-51,"direction":"horizontal","title":null,"symbolType":"stroke","symbolSize":576,"symbolStrokeWidth":2.8,"columnPadding":9,"labelOffset":5}}}},
{"transform":[{"filter":"datum.m === 'SCH+SUD'"}],"mark":{"type":"line","strokeWidth":2.8,"interpolate":"step-after"},"encoding":{"color":{"field":"m","type":"nominal","scale":{"domain":["SCH","SCH+SUD","SCH+ASPD+SUD"],"range":["#E69F00","#56B4E9","#A82828"]},"legend":null}}},
{"transform":[{"filter":"datum.m === 'SCH+ASPD+SUD'"}],"mark":{"type":"line","strokeWidth":2.8,"interpolate":"step-after"},"encoding":{"color":{"field":"m","type":"nominal","scale":{"domain":["SCH","SCH+SUD","SCH+ASPD+SUD"],"range":["#E69F00","#56B4E9","#A82828"]},"legend":null}}}
]
}
]
}
]
}
